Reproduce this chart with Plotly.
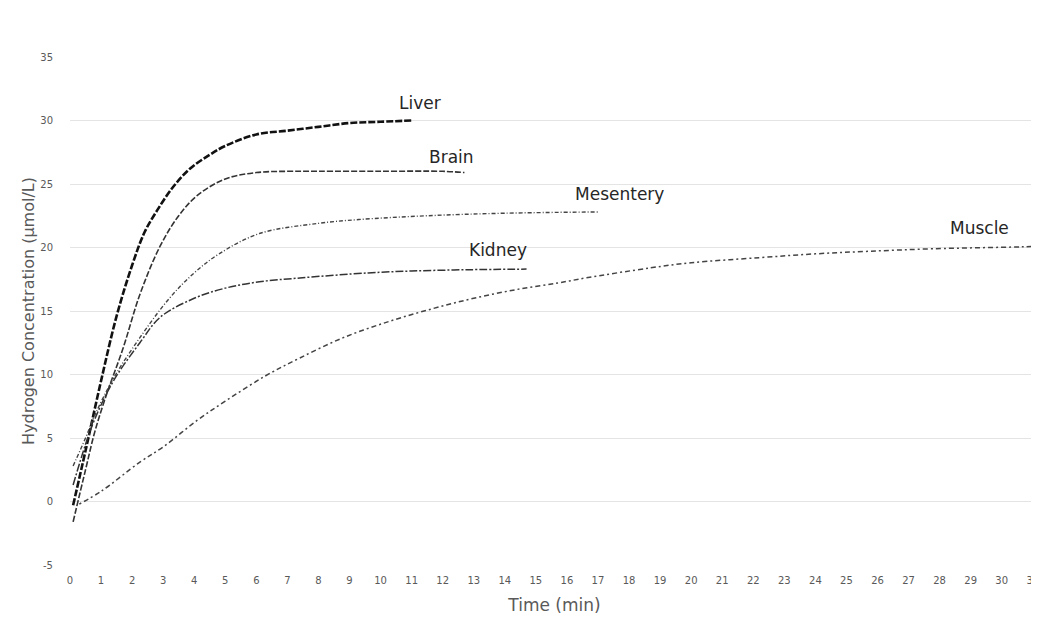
import plotly.graph_objects as go

# ---- data ----
liver_x = [0.1, 0.5, 1.0, 1.5, 2.0, 2.4, 2.8, 3.3, 3.86, 4.5, 5, 6, 7, 8, 9, 10, 11]
liver_y = [-0.3, 4.0, 9.5, 14.6, 18.6, 21.2, 22.9, 24.7, 26.2, 27.3, 28.0, 28.9, 29.2, 29.5, 29.8, 29.9, 30.0]

brain_x = [0.1, 0.5, 0.8, 1.2, 1.7, 2.25, 2.9, 3.5, 4.1, 5, 6, 7, 8, 10, 12, 12.7]
brain_y = [-1.6, 2.5, 5.5, 8.6, 12.0, 16.3, 20.1, 22.5, 24.1, 25.4, 25.9, 26.0, 26.0, 26.0, 26.0, 25.9]

mes_x = [0.1, 0.5, 0.8, 1.4, 2.25, 3.2, 4.0, 4.8, 6.1, 8.0, 9.3, 11.5, 14, 17]
mes_y = [2.8, 5.0, 6.8, 9.7, 12.9, 16.0, 18.0, 19.5, 21.1, 21.9, 22.2, 22.5, 22.7, 22.8]

kid_x = [0.1, 0.5, 0.8, 1.4, 2.25, 2.9, 4.0, 5, 6.1, 7.4, 9.6, 11, 12.8, 14.7]
kid_y = [1.3, 4.5, 6.5, 9.5, 12.5, 14.5, 16.0, 16.8, 17.3, 17.6, 18.0, 18.15, 18.25, 18.3]

mus_x = [0.3, 1, 2.25, 3, 4.1, 5, 6.3, 7.4, 8.8, 10.3, 11.7, 13.0, 14.4, 15.7, 16.6, 18.7, 20, 22.2, 24, 25.7, 27.8, 30.6, 31.2]
mus_y = [-0.2, 0.8, 3.1, 4.3, 6.4, 7.9, 9.9, 11.3, 12.9, 14.2, 15.2, 16.0, 16.7, 17.2, 17.6, 18.4, 18.8, 19.2, 19.5, 19.7, 19.9, 20.05, 20.1]

labels = ["Liver", "Brain", "Mesentery", "Kidney", "Muscle"]
label_x = [11.27, 12.27, 17.7, 13.78, 29.3]
label_y = [31.4, 27.1, 24.2, 19.8, 21.5]

x_ticks = list(range(0, 32))
y_ticks = [-5, 0, 5, 10, 15, 20, 25, 30, 35]

series = [
    (liver_x, liver_y, "#111111", 2.6, "7px,2px"),
    (brain_x, brain_y, "#333333", 1.6, "6px,2px"),
    (mes_x, mes_y, "#444444", 1.4, "4px,2px,1px,2px"),
    (kid_x, kid_y, "#333333", 1.5, "8px,2px,2px,2px"),
    (mus_x, mus_y, "#444444", 1.5, "2px,3px,5px,3px"),
]

fig = go.Figure()
for (xs, ys, col, w, dash), name in zip(series, labels):
    fig.add_trace(go.Scatter(x=xs, y=ys, mode="lines", name=name,
                             line=dict(color=col, width=w, dash=dash, shape="spline", smoothing=1.0),
                             showlegend=False, cliponaxis=True))

for t, lx, ly in zip(labels, label_x, label_y):
    fig.add_annotation(x=lx, y=ly, text=t, showarrow=False,
                       font=dict(family="DejaVu Sans", size=17, color="#262626"))

fig.update_layout(
    width=1039, height=618,
    margin=dict(l=62, r=8, t=49, b=61),
    paper_bgcolor="white", plot_bgcolor="white",
    font=dict(family="DejaVu Sans", color="#595959"),
    xaxis=dict(range=[0, 31.2], tickmode="array", tickvals=x_ticks, automargin=False,
               ticktext=[str(v) for v in x_ticks], showgrid=False, zeroline=False,
               tickfont=dict(size=10, color="#595959"), ticks="", ticklabelstandoff=8,
               title=dict(text="Time (min)", font=dict(size=17, color="#595959"), standoff=14)),
    yaxis=dict(range=[-5, 35], tickmode="array", tickvals=y_ticks, automargin=False,
               ticktext=[str(v) for v in y_ticks], showgrid=True, gridcolor="#e4e4e4",
               gridwidth=1, zeroline=False, tickfont=dict(size=10, color="#595959"),
               ticks="", ticklabelstandoff=16,
               title=dict(text="Hydrogen Concentration (μmol/L)", font=dict(size=16, color="#595959"),
                          standoff=1)),
)

fig.write_html("out.html")
